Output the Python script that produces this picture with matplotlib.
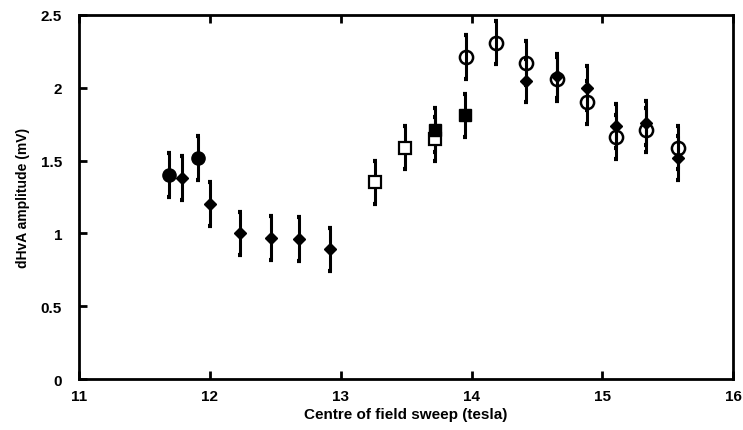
import matplotlib
matplotlib.use('Agg')
import matplotlib.pyplot as plt

# filled circles
fc_x = [11.69, 11.91]
fc_y = [1.40, 1.52]
# filled diamonds
fd_x = [11.79, 12.00, 12.23, 12.47, 12.68, 12.92, 14.42, 14.65, 14.88, 15.10, 15.33, 15.58]
fd_y = [1.38, 1.20, 1.00, 0.97, 0.96, 0.89, 2.05, 2.08, 2.00, 1.74, 1.76, 1.52]
# open squares
os_x = [13.26, 13.49, 13.72]
os_y = [1.35, 1.59, 1.65]
# filled squares
fs_x = [13.72, 13.95]
fs_y = [1.71, 1.81]
# open circles
oc_x = [13.96, 14.19, 14.42, 14.65, 14.88, 15.10, 15.33, 15.58]
oc_y = [2.21, 2.31, 2.17, 2.06, 1.90, 1.66, 1.71, 1.59]
err = 0.15

plt.rcParams['font.family'] = ['Liberation Sans', 'DejaVu Sans']
plt.rcParams['font.weight'] = 'bold'

fig = plt.figure(figsize=(7.43, 4.31), dpi=100)
ax = fig.add_axes([0.106, 0.118, 0.881, 0.845])

eb = dict(fmt='none', ecolor='black', elinewidth=2.2, capsize=1.5, capthick=3)
for xs, ys in [(fc_x, fc_y), (fd_x, fd_y), (os_x, os_y), (fs_x, fs_y), (oc_x, oc_y)]:
    ax.errorbar(xs, ys, yerr=err, **eb)

ax.plot(fd_x, fd_y, 'D', color='black', ms=6.5, zorder=3)
ax.plot(fc_x, fc_y, 'o', color='black', ms=9.5, zorder=3)
ax.plot(os_x, os_y, 's', mfc='white', mec='black', mew=1.6, ms=9, zorder=3)
ax.plot(fs_x, fs_y, 's', color='black', ms=8, zorder=3)
ax.plot(oc_x, oc_y, 'o', mfc='none', mec='black', mew=1.8, ms=9.5, zorder=4)

ax.set_xlim(11, 16)
ax.set_ylim(0, 2.5)
ax.set_xticks([11, 12, 13, 14, 15, 16])
ax.set_yticks([0, 0.5, 1, 1.5, 2, 2.5])
ax.set_yticklabels(['0', '0.5', '1', '1.5', '2', '2.5'])
ax.tick_params(direction='in', length=6, width=2, labelsize=11, top=True, right=False)
ax.tick_params(axis='y', pad=12)
ax.tick_params(axis='x', pad=7)
for s in ax.spines.values():
    s.set_linewidth(2)
ax.set_xlabel('Centre of field sweep (tesla)', fontsize=11, fontweight='bold', labelpad=3)
ax.set_ylabel('dHvA amplitude (mV)', fontsize=10, fontweight='bold', labelpad=8)

fig.savefig('out.png', dpi=100)
